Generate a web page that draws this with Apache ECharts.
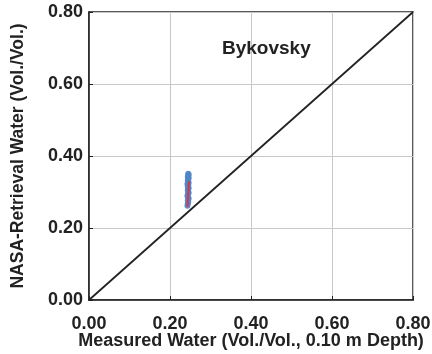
<!DOCTYPE html>
<html><head><meta charset="utf-8">
<script src="https://cdn.jsdelivr.net/npm/echarts@6/dist/echarts.min.js"></script>
<style>html,body{margin:0;padding:0;background:#fff}#c{width:432px;height:354px}</style>
</head><body><div id="c"></div>
<script>
const ticks = [0, 0.2, 0.4, 0.6, 0.8];
const measured = [0.243,0.244,0.245,0.244,0.246,0.245,0.243,0.244,0.246,0.245,0.244,0.245,0.246,0.244,0.245,0.243,0.246,0.245,0.244,0.245,0.246,0.244,0.245,0.246,0.245];
const retrieved = [0.262,0.268,0.272,0.277,0.281,0.285,0.289,0.293,0.297,0.300,0.304,0.308,0.311,0.315,0.318,0.322,0.325,0.329,0.332,0.336,0.339,0.342,0.345,0.348,0.351];
const fitX = [0.243, 0.247];
const fitY = [0.258, 0.330];
const oneToOne = [0, 0.8];
const title = 'Bykovsky';

const chart = echarts.init(document.getElementById('c'));
const font = 'Liberation Sans, Arial, sans-serif';
chart.setOption({
  animation: false,
  grid: {left: 89, right: 19, top: 12, bottom: 54, show: true, borderColor: '#222', borderWidth: 1.5, containLabel: false, outerBoundsMode: 'none'},
  title: {text: title, left: 217, top: 34, textStyle: {fontFamily: font, fontWeight: 'bold', fontSize: 19, color: '#222'}},
  xAxis: {
    type: 'value', min: 0, max: 0.8, interval: 0.2,
    name: 'Measured Water (Vol./Vol., 0.10 m Depth)', nameLocation: 'middle', nameGap: 32, nameMoveOverlap: false,
    nameTextStyle: {fontFamily: font, fontWeight: 'bold', fontSize: 18, color: '#222'},
    axisLine: {lineStyle: {color: '#222', width: 1.5}},
    axisTick: {inside: true, length: 4, lineStyle: {color: '#222'}},
    axisLabel: {fontFamily: font, fontWeight: 'bold', fontSize: 18, color: '#222', margin: 15, formatter: v => v.toFixed(2)},
    splitLine: {show: true, lineStyle: {color: '#c8c8c8', width: 1}}
  },
  yAxis: {
    type: 'value', min: 0, max: 0.8, interval: 0.2,
    name: 'NASA-Retrieval Water (Vol./Vol.)', nameLocation: 'middle', nameGap: 62, nameMoveOverlap: false,
    nameTextStyle: {fontFamily: font, fontWeight: 'bold', fontSize: 17.5, color: '#222'},
    axisLine: {show: true, lineStyle: {color: '#222', width: 1.5}},
    axisTick: {show: true, inside: true, length: 4, lineStyle: {color: '#222'}},
    axisLabel: {fontFamily: font, fontWeight: 'bold', fontSize: 18, color: '#222', margin: 6, formatter: v => v.toFixed(2)},
    splitLine: {show: true, lineStyle: {color: '#c8c8c8', width: 1}}
  },
  series: [
    {type: 'line', data: oneToOne.map(v => [v, v]), symbol: 'none', lineStyle: {color: '#222', width: 1.8}, z: 2},
    {type: 'scatter', data: measured.map((x, i) => [x, retrieved[i]]), symbol: 'circle', symbolSize: 6,
      itemStyle: {color: '#4f86c6', opacity: 0.9}, z: 3},
    {type: 'line', data: fitX.map((x, i) => [x, fitY[i]]), symbol: 'none', lineStyle: {color: '#d8344a', width: 2}, z: 4}
  ]
});
</script></body></html>
